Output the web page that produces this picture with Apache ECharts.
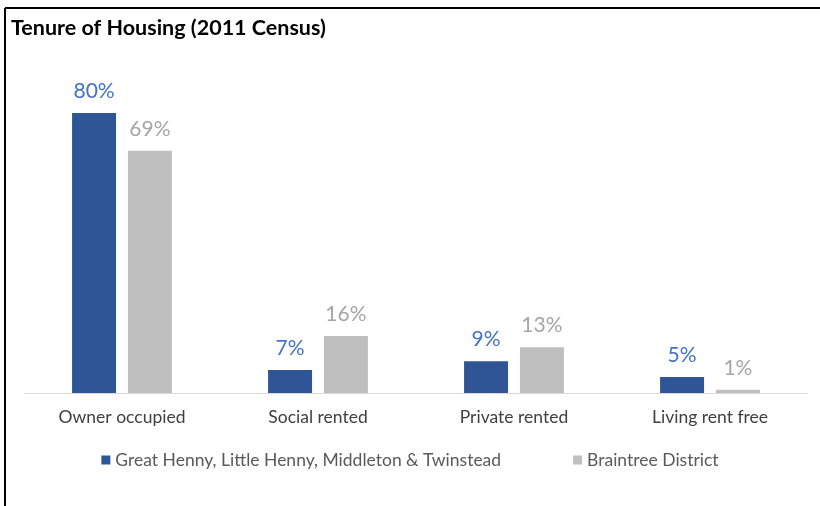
<!DOCTYPE html>
<html><head><meta charset="utf-8">
<script src="https://cdn.jsdelivr.net/npm/echarts@6/dist/echarts.min.js"></script>
<style>html,body{margin:0;padding:0;background:#fff}#c{width:820px;height:506px}</style>
</head><body><div id="c"></div>
<script>
const categories = ['Owner occupied', 'Social rented', 'Private rented', 'Living rent free'];
const seriesNames = ['Great Henny, Little Henny, Middleton & Twinstead', 'Braintree District'];
const localValues = [80.0, 6.6, 9.1, 4.6];
const districtValues = [69.2, 16.3, 13.1, 0.9];

const FONT = 'Lato';
const chart = echarts.init(document.getElementById('c'));
chart.setOption({
  animation: false,
  title: { text: 'Tenure of Housing (2011 Census)', left: 6, top: 12,
    textStyle: { fontFamily: FONT, fontSize: 21.5, fontWeight: 'bold', color: '#000' } },
  graphic: [
    { type: 'line', shape: { x1: 5, y1: 8, x2: 820, y2: 8 }, style: { stroke: '#000', lineWidth: 2 } },
    { type: 'line', shape: { x1: 5, y1: 8, x2: 5, y2: 506 }, style: { stroke: '#000', lineWidth: 2 } }
  ],
  legend: { top: 446, left: 'center', itemWidth: 9, itemHeight: 9, itemGap: 72, icon: 'rect',
    textStyle: { fontFamily: FONT, fontSize: 17.5, color: '#595959' } },
  grid: { left: 24, right: 12, top: 43, bottom: 113 },
  xAxis: { type: 'category', data: categories,
    axisLine: { lineStyle: { color: '#D9D9D9' } }, axisTick: { show: false },
    axisLabel: { fontFamily: FONT, fontSize: 17.5, color: '#404040', margin: 15 } },
  yAxis: { type: 'value', min: 0, max: 100, show: false, splitLine: { show: false } },
  series: [
    { name: seriesNames[0], type: 'bar', data: localValues, barWidth: 44, barGap: '27%',
      itemStyle: { color: '#2F5597' },
      label: { show: true, position: 'top', distance: 11, fontFamily: FONT, fontSize: 21, color: '#4472C4',
        formatter: p => Math.round(p.value) + '%' } },
    { name: seriesNames[1], type: 'bar', data: districtValues, barWidth: 44,
      itemStyle: { color: '#BFBFBF' },
      label: { show: true, position: 'top', distance: 11, fontFamily: FONT, fontSize: 21, color: '#A6A6A6',
        formatter: p => Math.round(p.value) + '%' } }
  ]
});
</script></body></html>
